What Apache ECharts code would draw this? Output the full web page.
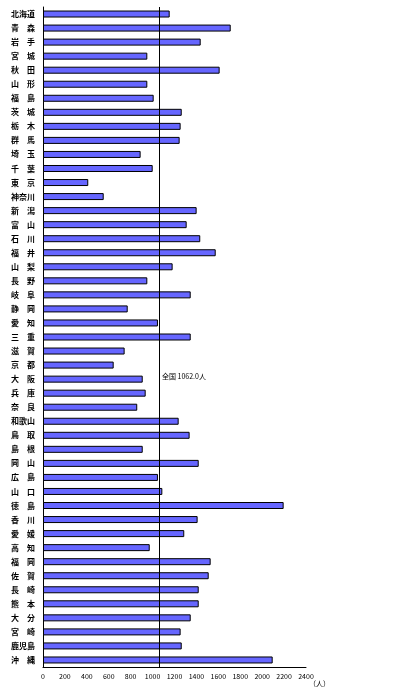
<!DOCTYPE html>
<html>
<head>
<meta charset="utf-8">
<script src="https://cdn.jsdelivr.net/npm/echarts@6/dist/echarts.min.js"></script>
<style>html,body{margin:0;padding:0;background:#fff;}#c{width:397px;height:695px;}</style>
</head>
<body>
<div id="c"></div>
<script>
const categories = ["北海道","青　森","岩　手","宮　城","秋　田","山　形","福　島","茨　城","栃　木","群　馬","埼　玉","千　葉","東　京","神奈川","新　潟","富　山","石　川","福　井","山　梨","長　野","岐　阜","静　岡","愛　知","三　重","滋　賀","京　都","大　阪","兵　庫","奈　良","和歌山","鳥　取","島　根","岡　山","広　島","山　口","徳　島","香　川","愛　媛","高　知","福　岡","佐　賀","長　崎","熊　本","大　分","宮　崎","鹿児島","沖　縄"];
const values = [1156,1713,1439,952,1612,952,1010,1266,1256,1247,891,1001,413,554,1402,1311,1435,1576,1183,952,1348,773,1049,1348,745,645,910,937,860,1238,1338,910,1421,1049,1089,2196,1411,1289,974,1530,1512,1421,1421,1348,1256,1266,2096];
const nationalAvg = 1062.0;
const xTicks = [0,200,400,600,800,1000,1200,1400,1600,1800,2000,2200,2400];

const chart = echarts.init(document.getElementById('c'));
chart.setOption({
  animation: false,
  grid: {left: 43, right: 91, top: 7, bottom: 28, containLabel: false},
  xAxis: {
    type: 'value', min: xTicks[0], max: xTicks[xTicks.length-1], interval: 200,
    axisLine: {show: true, lineStyle: {color: '#000', width: 1}},
    axisTick: {show: false},
    splitLine: {show: false},
    axisLabel: {fontSize: 7, color: '#000', margin: 6, fontFamily: 'Noto Sans CJK JP', formatter: v => String(v)}
  },
  yAxis: {
    type: 'category', data: categories, inverse: true,
    axisLine: {show: true, lineStyle: {color: '#000', width: 1}},
    axisTick: {show: false},
    axisLabel: {fontSize: 8, color: '#000', margin: 8, fontWeight: 'bold', fontFamily: 'Noto Sans CJK JP'}
  },
  series: [{
    type: 'bar', data: values, barWidth: 7,
    itemStyle: {color: '#6666ff', borderColor: '#000', borderWidth: 1},
    markLine: {
      silent: true, symbol: 'none',
      lineStyle: {color: '#000', width: 1, type: 'solid'},
      label: {show: false},
      data: [{xAxis: nationalAvg}]
    }
  }],
  graphic: [
    {type: 'text', left: 162, top: 373, style: {text: '全国 ' + nationalAvg.toFixed(1) + '人', fontSize: 7, fill: '#000', fontFamily: 'Noto Sans CJK JP'}},
    {type: 'text', left: 309, top: 680, style: {text: '（人）', fontSize: 7, fill: '#000', fontFamily: 'Noto Sans CJK JP'}}
  ]
});
</script>
</body>
</html>
